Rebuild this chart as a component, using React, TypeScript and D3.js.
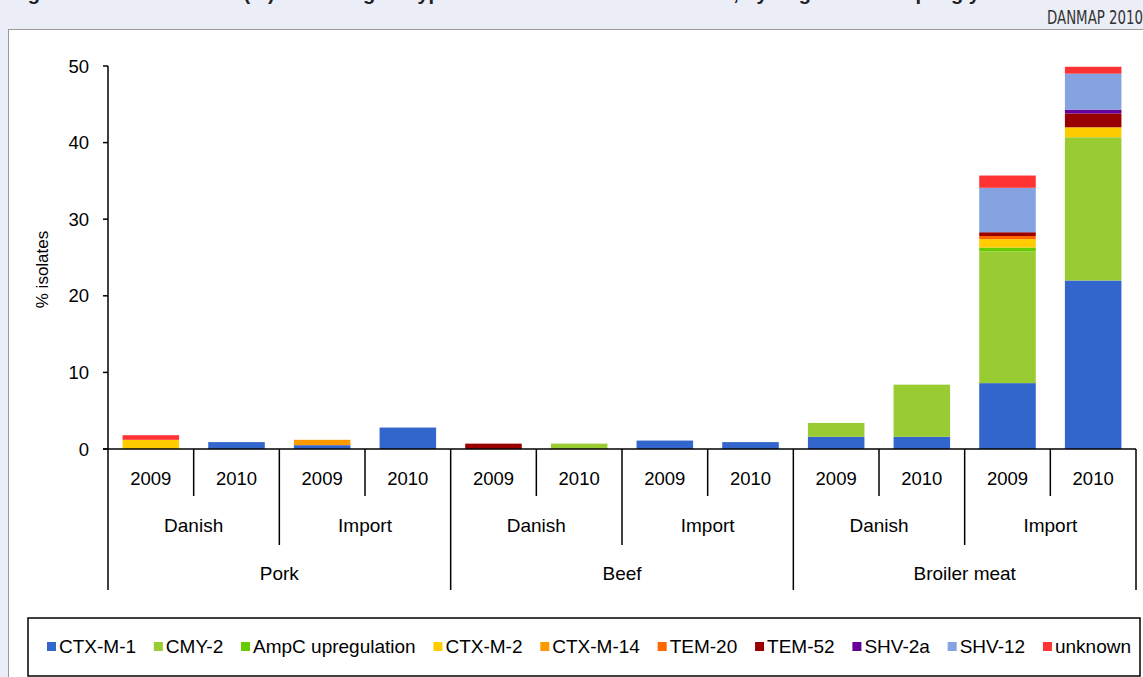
import React from "react";
import * as d3 from "d3";

// Category axis: meat type > origin > year
const meats = ["Pork", "Beef", "Broiler meat"];
const origins = ["Danish", "Import"];
const years = ["2009", "2010"];

// Gene series, stacked bottom to top (% of isolates)
const seriesNames = [
  "CTX-M-1",
  "CMY-2",
  "AmpC upregulation",
  "CTX-M-2",
  "CTX-M-14",
  "TEM-20",
  "TEM-52",
  "SHV-2a",
  "SHV-12",
  "unknown",
];
const seriesColors = [
  "#3366cc",
  "#99cc33",
  "#66cc00",
  "#ffcc00",
  "#ff9900",
  "#ff6600",
  "#990000",
  "#660099",
  "#85a3e0",
  "#ff3333",
];

const ctxM1 = [0, 0.9, 0.5, 2.8, 0, 0, 1.1, 0.9, 1.6, 1.6, 8.6, 22.0];
const cmy2 = [0, 0, 0, 0, 0, 0.7, 0, 0, 1.8, 6.8, 17.2, 18.7];
const ampC = [0, 0, 0, 0, 0, 0, 0, 0, 0, 0, 0.5, 0];
const ctxM2 = [1.2, 0, 0, 0, 0, 0, 0, 0, 0, 0, 1.1, 1.3];
const ctxM14 = [0, 0, 0.7, 0, 0, 0, 0, 0, 0, 0, 0, 0];
const tem20 = [0, 0, 0, 0, 0, 0, 0, 0, 0, 0, 0.4, 0];
const tem52 = [0, 0, 0, 0, 0.7, 0, 0, 0, 0, 0, 0.5, 1.8];
const shv2a = [0, 0, 0, 0, 0, 0, 0, 0, 0, 0, 0, 0.5];
const shv12 = [0, 0, 0, 0, 0, 0, 0, 0, 0, 0, 5.8, 4.7];
const unknown = [0.6, 0, 0, 0, 0, 0, 0, 0, 0, 0, 1.6, 0.9];

const seriesValues = [ctxM1, cmy2, ampC, ctxM2, ctxM14, tem20, tem52, shv2a, shv12, unknown];

const yTicks = [0, 10, 20, 30, 40, 50];

const W = 1143;
const H = 677;
const FONT = "'Liberation Sans', Arial, sans-serif";

function measure(text: string, font: string): number {
  const c = document.createElement("canvas").getContext("2d");
  if (!c) return text.length * 10;
  c.font = font;
  return c.measureText(text).width;
}

export default function App() {
  const n = meats.length * origins.length * years.length;
  const perMeat = origins.length * years.length;
  const rows = d3.range(n).map((i) => {
    const r: Record<string, number> = { idx: i };
    seriesNames.forEach((s, k) => (r[s] = seriesValues[k][i]));
    return r;
  });
  const stacked = d3.stack<Record<string, number>>().keys(seriesNames)(rows);

  const x = d3
    .scaleBand<number>()
    .domain(d3.range(n))
    .range([108, 1136])
    .paddingInner(0.34)
    .paddingOuter(0.17);
  const y = d3.scaleLinear().domain([0, 50]).range([449, 66]);
  const step = x.step();
  const edge = (i: number) => x(0)! - (step * x.paddingInner()) / 2 + i * step;
  const axisY = y(0);

  // legend layout: items spread across a fixed row
  const legFont = `19px ${FONT}`;
  const sw = 9;
  const swGap = 3;
  const rowStart = 47;
  const rowEnd = 1131;
  const widths = seriesNames.map((s) => measure(s, legFont));
  const itemGap =
    (rowEnd - rowStart - d3.sum(widths) - seriesNames.length * (sw + swGap)) /
    (seriesNames.length - 1);
  let cursor = rowStart;
  const legendItems = seriesNames.map((s, k) => {
    const pos = cursor;
    cursor += sw + swGap + widths[k] + itemGap;
    return { name: s, color: seriesColors[k], x: pos };
  });
  const legBox = { x: 28, y: 618, w: 1112, h: 58 };

  return (
    <svg
      width={W}
      height={H}
      style={{ position: "absolute", left: 0, top: 0, display: "block" }}
      fontFamily={FONT}
    >
      <rect x={0} y={0} width={W} height={H} fill="#ebeef7" />
      <text x={10} y={0} fontSize={20} fontWeight="bold" fill="#222">
        Figure 9.13. Occurrence (%) of ESBL genotypes in E. coli isolates from meat, by origin and sampling year
      </text>
      <text
        x={1143}
        y={24}
        textAnchor="end"
        fontFamily="'DejaVu Sans Condensed', 'DejaVu Sans', sans-serif"
        fontSize={19}
        fill="#333"
        textLength={96}
        lengthAdjust="spacingAndGlyphs"
      >
        DANMAP 2010
      </text>
      <rect x={8.5} y={29.5} width={W} height={H} fill="#fff" stroke="#9a9a9a" strokeWidth={1} />

      {/* stacked bars */}
      {stacked.map((layer, k) => (
        <g key={layer.key} fill={seriesColors[k]}>
          {layer.map((d, i) =>
            d[1] - d[0] > 0 ? (
              <rect
                key={i}
                x={x(i)}
                y={y(d[1])}
                width={x.bandwidth()}
                height={y(d[0]) - y(d[1])}
              />
            ) : null
          )}
        </g>
      ))}

      {/* y axis */}
      <line x1={108} x2={108} y1={y(50)} y2={axisY} stroke="#000" strokeWidth={1.5} />
      {yTicks.map((t) => (
        <g key={t}>
          <line x1={103} x2={108} y1={y(t)} y2={y(t)} stroke="#000" strokeWidth={1.5} />
          <text x={89} y={y(t) + 6.5} textAnchor="end" fontSize={18.5} fill="#000">
            {t}
          </text>
        </g>
      ))}
      <text
        transform={`translate(48,${(y(0) + y(50)) / 2 + 12}) rotate(-90)`}
        textAnchor="middle"
        fontSize={17}
        fill="#000"
      >
        % isolates
      </text>

      {/* category axis */}
      <line x1={103} x2={edge(n)} y1={axisY} y2={axisY} stroke="#000" strokeWidth={1.5} />
      {d3.range(n + 1).map((i) => {
        const depth = i % perMeat === 0 ? 590 : i % years.length === 0 ? 545 : 496;
        return (
          <line
            key={i}
            x1={edge(i)}
            x2={edge(i)}
            y1={axisY}
            y2={depth}
            stroke="#000"
            strokeWidth={1.5}
          />
        );
      })}
      {d3.range(n).map((i) => (
        <text
          key={`yr${i}`}
          x={x(i)! + x.bandwidth() / 2}
          y={485}
          textAnchor="middle"
          fontSize={18.5}
          fill="#000"
        >
          {years[i % years.length]}
        </text>
      ))}
      {d3.range(n / years.length).map((j) => (
        <text
          key={`or${j}`}
          x={(edge(j * 2) + edge(j * 2 + 2)) / 2}
          y={532}
          textAnchor="middle"
          fontSize={19}
          fill="#000"
        >
          {origins[j % origins.length]}
        </text>
      ))}
      {meats.map((m, j) => (
        <text
          key={m}
          x={(edge(j * perMeat) + edge((j + 1) * perMeat)) / 2}
          y={580}
          textAnchor="middle"
          fontSize={19}
          fill="#000"
        >
          {m}
        </text>
      ))}

      {/* legend */}
      <rect
        x={legBox.x}
        y={legBox.y}
        width={legBox.w}
        height={legBox.h}
        fill="#fff"
        stroke="#000"
        strokeWidth={1.5}
      />
      {legendItems.map((it) => (
        <g key={it.name}>
          <rect x={it.x} y={642} width={sw} height={sw} fill={it.color} />
          <text x={it.x + sw + swGap} y={653} fontSize={19} fill="#000">
            {it.name}
          </text>
        </g>
      ))}
    </svg>
  );
}
